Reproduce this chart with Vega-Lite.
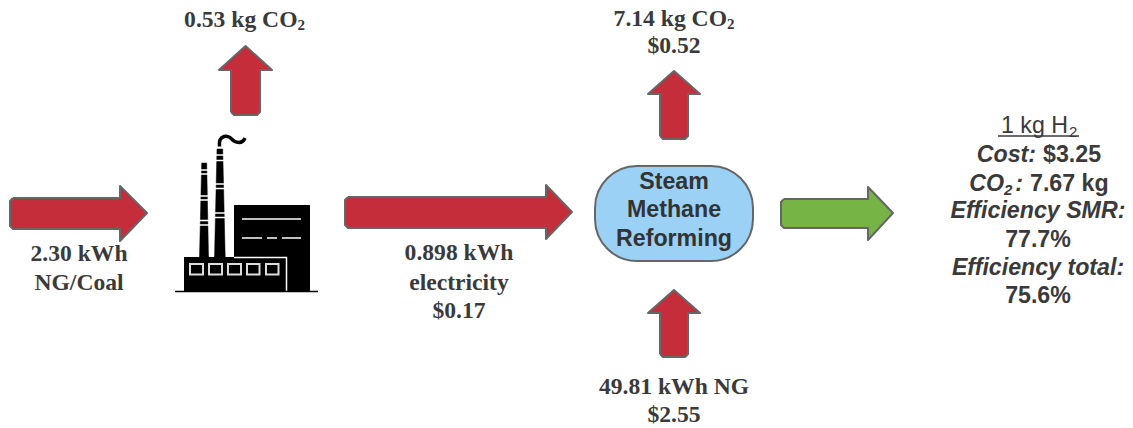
{"$schema":"https://vega.github.io/schema/vega-lite/v6.json","width":1133,"height":428,"padding":0,"autosize":"none","background":"white","view":{"stroke":null},
"encoding":{"x":{"field":"x","type":"quantitative","scale":{"domain":[0,1133],"nice":false,"zero":false},"axis":null},"y":{"field":"y","type":"quantitative","scale":{"domain":[0,428],"nice":false,"zero":false,"reverse":true},"axis":null}},
"layer":[
{"data":{"values":[
{"s":"r1","o":1,"x":13,"y":198},{"s":"r1","o":2,"x":120,"y":198},{"s":"r1","o":3,"x":120,"y":186},{"s":"r1","o":4,"x":147,"y":213},{"s":"r1","o":5,"x":120,"y":241},{"s":"r1","o":6,"x":120,"y":229},{"s":"r1","o":7,"x":13,"y":229},{"s":"r1","o":8,"x":10,"y":226},{"s":"r1","o":9,"x":10,"y":201},{"s":"r1","o":10,"x":13,"y":198},
{"s":"r2","o":1,"x":348,"y":197},{"s":"r2","o":2,"x":546,"y":197},{"s":"r2","o":3,"x":546,"y":185},{"s":"r2","o":4,"x":572,"y":212},{"s":"r2","o":5,"x":546,"y":239},{"s":"r2","o":6,"x":546,"y":228},{"s":"r2","o":7,"x":348,"y":228},{"s":"r2","o":8,"x":345,"y":225},{"s":"r2","o":9,"x":345,"y":200},{"s":"r2","o":10,"x":348,"y":197},
{"s":"u1","o":1,"x":231,"y":112},{"s":"u1","o":2,"x":231,"y":70},{"s":"u1","o":3,"x":219,"y":70},{"s":"u1","o":4,"x":245.5,"y":46},{"s":"u1","o":5,"x":272,"y":70},{"s":"u1","o":6,"x":260,"y":70},{"s":"u1","o":7,"x":260,"y":112},{"s":"u1","o":8,"x":257,"y":115},{"s":"u1","o":9,"x":234,"y":115},{"s":"u1","o":10,"x":231,"y":112},
{"s":"u2","o":1,"x":660,"y":136},{"s":"u2","o":2,"x":660,"y":94},{"s":"u2","o":3,"x":648,"y":94},{"s":"u2","o":4,"x":674,"y":71},{"s":"u2","o":5,"x":700,"y":94},{"s":"u2","o":6,"x":688,"y":94},{"s":"u2","o":7,"x":688,"y":136},{"s":"u2","o":8,"x":685,"y":139},{"s":"u2","o":9,"x":663,"y":139},{"s":"u2","o":10,"x":660,"y":136},
{"s":"u3","o":1,"x":660,"y":354},{"s":"u3","o":2,"x":660,"y":313},{"s":"u3","o":3,"x":648,"y":313},{"s":"u3","o":4,"x":674,"y":290},{"s":"u3","o":5,"x":700,"y":313},{"s":"u3","o":6,"x":688,"y":313},{"s":"u3","o":7,"x":688,"y":354},{"s":"u3","o":8,"x":685,"y":357},{"s":"u3","o":9,"x":663,"y":357},{"s":"u3","o":10,"x":660,"y":354}
]},"mark":{"type":"line","fill":"#c62d3a","stroke":"#666666","strokeWidth":2,"strokeJoin":"round"},"encoding":{"detail":{"field":"s"},"order":{"field":"o","type":"quantitative"}}},
{"data":{"values":[
{"s":"g","o":1,"x":784,"y":199},{"s":"g","o":2,"x":868,"y":199},{"s":"g","o":3,"x":868,"y":187},{"s":"g","o":4,"x":893,"y":213},{"s":"g","o":5,"x":868,"y":240},{"s":"g","o":6,"x":868,"y":228},{"s":"g","o":7,"x":784,"y":228},{"s":"g","o":8,"x":781,"y":225},{"s":"g","o":9,"x":781,"y":202},{"s":"g","o":10,"x":784,"y":199}
]},"mark":{"type":"line","fill":"#76b545","stroke":"#666666","strokeWidth":2,"strokeJoin":"round"},"encoding":{"detail":{"field":"s"},"order":{"field":"o","type":"quantitative"}}},
{"data":{"values":[{"x":595,"x2":753,"y":166,"y2":261}]},"mark":{"type":"rect","fill":"#9ad1f5","stroke":"#666666","strokeWidth":2,"cornerRadius":42},"encoding":{"x2":{"field":"x2"},"y2":{"field":"y2"}}},
{"data":{"values":[
{"s":"c1","o":1,"x":199.5,"y":257},{"s":"c1","o":2,"x":201.7,"y":163},{"s":"c1","o":3,"x":206.7,"y":163},{"s":"c1","o":4,"x":208.5,"y":257},{"s":"c1","o":5,"x":199.5,"y":257},
{"s":"c2","o":1,"x":214.5,"y":257},{"s":"c2","o":2,"x":217,"y":149},{"s":"c2","o":3,"x":222.7,"y":149},{"s":"c2","o":4,"x":225.2,"y":257},{"s":"c2","o":5,"x":214.5,"y":257}
]},"mark":{"type":"line","fill":"#000000","stroke":"#000000","strokeWidth":0.5},"encoding":{"detail":{"field":"s"},"order":{"field":"o","type":"quantitative"}}},
{"data":{"values":[
{"x":199,"x2":210,"y":170},{"x":199,"x2":210,"y":174},{"x":199,"x2":210,"y":196},{"x":199,"x2":210,"y":200},{"x":199,"x2":210,"y":220.5},{"x":199,"x2":210,"y":225},
{"x":214,"x2":226,"y":155},{"x":214,"x2":226,"y":160.5},{"x":214,"x2":226,"y":184},{"x":214,"x2":226,"y":188.5},{"x":214,"x2":226,"y":213},{"x":214,"x2":226,"y":217.5}
]},"mark":{"type":"rule","stroke":"#ffffff","strokeWidth":1.5},"encoding":{"x2":{"field":"x2"}}},
{"data":{"values":[{"o":1,"x":219.5,"y":146.5},{"o":2,"x":220,"y":140},{"o":3,"x":224,"y":136.5},{"o":4,"x":229,"y":137},{"o":5,"x":234,"y":141},{"o":6,"x":239,"y":142.5},{"o":7,"x":243,"y":141},{"o":8,"x":245,"y":138}]},"mark":{"type":"line","stroke":"#000000","strokeWidth":3.5,"interpolate":"cardinal"},"encoding":{"order":{"field":"o","type":"quantitative"}}},
{"data":{"values":[{"x":234,"x2":310,"y":205,"y2":291},{"x":184,"x2":287,"y":257,"y2":291}]},"mark":{"type":"rect","fill":"#000000"},"encoding":{"x2":{"field":"x2"},"y2":{"field":"y2"}}},
{"data":{"values":[
{"x":234,"x2":287,"y":257.5},{"x":242,"x2":301,"y":219},{"x":242,"x2":262,"y":238},{"x":267,"x2":277,"y":238},{"x":282,"x2":301,"y":238}
]},"mark":{"type":"rule","stroke":"#ffffff","strokeWidth":1.5},"encoding":{"x2":{"field":"x2"}}},
{"data":{"values":[{"x":286.5,"y":257,"y2":291}]},"mark":{"type":"rule","stroke":"#ffffff","strokeWidth":1.5},"encoding":{"y2":{"field":"y2"}}},
{"data":{"values":[{"x":190,"x2":203,"y":264,"y2":274.5},{"x":209,"x2":222,"y":264,"y2":274.5},{"x":228,"x2":241,"y":264,"y2":274.5},{"x":247,"x2":259.5,"y":264,"y2":274.5},{"x":266,"x2":278.5,"y":264,"y2":274.5}]},"mark":{"type":"rect","fill":"#000000","stroke":"#dddddd","strokeWidth":2},"encoding":{"x2":{"field":"x2"},"y2":{"field":"y2"}}},
{"data":{"values":[{"x":175,"x2":318,"y":291.5}]},"mark":{"type":"rule","stroke":"#000000","strokeWidth":1.6},"encoding":{"x2":{"field":"x2"}}},
{"data":{"values":[
{"x":674,"y":53,"t":"$0.52"},
{"x":79,"y":261,"t":"2.30 kWh"},{"x":79,"y":290,"t":"NG/Coal"},
{"x":459,"y":260,"t":"0.898 kWh"},{"x":459,"y":290,"t":"electricity"},{"x":459,"y":318,"t":"$0.17"},
{"x":674,"y":394,"t":"49.81 kWh NG"},{"x":674,"y":422,"t":"$2.55"}
]},"mark":{"type":"text","font":"Liberation Serif","fontWeight":"bold","fontSize":23.6,"fill":"#3a3a3a","align":"center","baseline":"alphabetic"},"encoding":{"text":{"field":"t"}}},
{"data":{"values":[{"x":297.5,"y":27,"t":"0.53 kg CO"},{"x":727,"y":26,"t":"7.14 kg CO"}]},"mark":{"type":"text","font":"Liberation Serif","fontWeight":"bold","fontSize":23.6,"fill":"#3a3a3a","align":"right","baseline":"alphabetic"},"encoding":{"text":{"field":"t"}}},
{"data":{"values":[{"x":297.5,"y":30,"t":"2"},{"x":727,"y":29,"t":"2"}]},"mark":{"type":"text","font":"Liberation Serif","fontWeight":"bold","fontSize":15,"fill":"#3a3a3a","align":"left","baseline":"alphabetic"},"encoding":{"text":{"field":"t"}}},
{"data":{"values":[{"x":674,"y":189,"t":"Steam"},{"x":674,"y":217,"t":"Methane"},{"x":674,"y":246,"t":"Reforming"}]},"mark":{"type":"text","font":"Liberation Sans","fontWeight":"bold","fontSize":23.2,"fill":"#333333","align":"center","baseline":"alphabetic"},"encoding":{"text":{"field":"t"}}},
{"data":{"values":[{"x":1038,"y":247,"t":"77.7%"},{"x":1038,"y":303,"t":"75.6%"}]},"mark":{"type":"text","font":"Liberation Sans","fontWeight":"bold","fontSize":23.2,"fill":"#3a3a3a","align":"center","baseline":"alphabetic"},"encoding":{"text":{"field":"t"}}},
{"data":{"values":[{"x":1068,"y":133,"t":"1 kg H"}]},"mark":{"type":"text","font":"Liberation Sans","fontWeight":"normal","fontSize":23.2,"fill":"#3a3a3a","align":"right","baseline":"alphabetic"},"encoding":{"text":{"field":"t"}}},
{"data":{"values":[{"x":1069,"y":137,"t":"2"}]},"mark":{"type":"text","font":"Liberation Sans","fontWeight":"normal","fontSize":15,"fill":"#3a3a3a","align":"left","baseline":"alphabetic"},"encoding":{"text":{"field":"t"}}},
{"data":{"values":[{"x":1038,"y":218,"t":"Efficiency SMR:"},{"x":1038,"y":275,"t":"Efficiency total:"}]},"mark":{"type":"text","font":"Liberation Sans","fontWeight":"bold","fontStyle":"italic","fontSize":23.2,"fill":"#3a3a3a","align":"center","baseline":"alphabetic"},"encoding":{"text":{"field":"t"}}},
{"data":{"values":[{"x":1036,"y":162,"t":"Cost:"},{"x":1004,"y":191,"t":"CO"},{"x":1023,"y":191,"t":":"}]},"mark":{"type":"text","font":"Liberation Sans","fontWeight":"bold","fontStyle":"italic","fontSize":23.2,"fill":"#3a3a3a","align":"right","baseline":"alphabetic"},"encoding":{"text":{"field":"t"}}},
{"data":{"values":[{"x":1004,"y":195,"t":"2"}]},"mark":{"type":"text","font":"Liberation Sans","fontWeight":"bold","fontStyle":"italic","fontSize":15,"fill":"#3a3a3a","align":"left","baseline":"alphabetic"},"encoding":{"text":{"field":"t"}}},
{"data":{"values":[{"x":1043,"y":162,"t":"$3.25"},{"x":1030,"y":191,"t":"7.67 kg"}]},"mark":{"type":"text","font":"Liberation Sans","fontWeight":"bold","fontSize":23.2,"fill":"#3a3a3a","align":"left","baseline":"alphabetic"},"encoding":{"text":{"field":"t"}}},
{"data":{"values":[{"x":998,"x2":1079,"y":136}]},"mark":{"type":"rule","stroke":"#3a3a3a","strokeWidth":1.5},"encoding":{"x2":{"field":"x2"}}}
]}
